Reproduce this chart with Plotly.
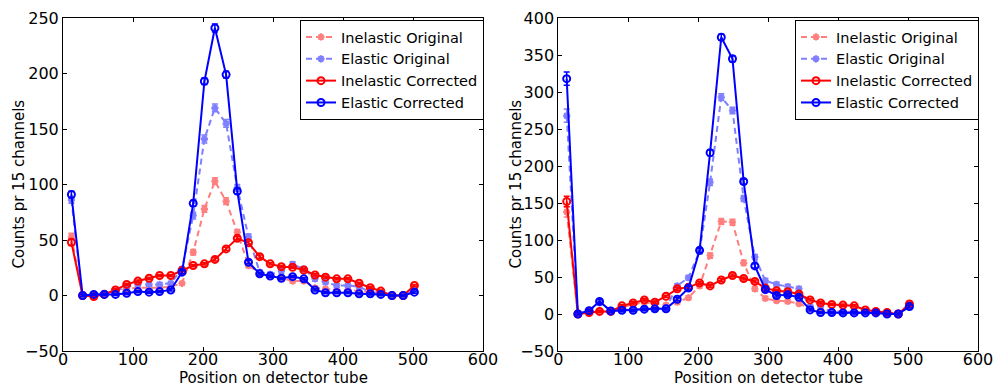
import plotly.graph_objects as go

# Bin positions (shared by both panels)
x = [12, 28, 44, 59, 75, 91, 107, 123, 138, 154, 170, 186, 202, 217, 233, 249,
     265, 281, 296, 312, 328, 344, 360, 375, 391, 407, 423, 439, 454, 470, 486, 502]

names = ["Inelastic Original", "Elastic Original", "Inelastic Corrected", "Elastic Corrected"]
x_title = "Position on detector tube"
y_title = "Counts pr 15 channels"

# ---- Left panel ----
inel_orig_L = [53, 0, 0, 2, 4, 6, 7, 7, 7, 8, 11, 39, 78, 103, 85, 57,
               27, 20, 18, 16, 13, 13, 7, 6, 5, 5, 4, 3, 2, 0, 0, 7]
el_orig_L = [86, 0, 1, 2, 4, 8, 10, 10, 10, 11, 24, 72, 141, 169, 155, 97,
             53, 21, 19, 22, 28, 24, 15, 12, 9, 9, 8, 3, 2, 0, 0, 5]
inel_corr_L = [48, 0, -1, 1, 5, 10, 13, 15.5, 18, 18, 22.5, 27, 28.5, 32.5, 42, 51.5,
               47.5, 35, 28.5, 26, 25.5, 23, 18.5, 16.5, 15, 15, 11, 7, 4, 0, 0, 9]
el_corr_L = [91, 0, 1, 1, 1, 2, 3.5, 3, 3.5, 5, 21, 83, 193, 241, 199, 94,
             30, 19.5, 17.5, 15.5, 17, 15, 5, 2.5, 2.5, 2.5, 1.5, 1.5, 1, 0, 0, 3]

inel_orig_L_err = [3, 1, 1, 1, 1, 1, 1, 1, 1, 1, 1.5, 2.5, 3, 3, 3, 2.5,
                   2, 1.5, 1.5, 1.5, 1.5, 1.5, 1, 1, 1, 1, 1, 1, 1, 1, 1, 1.5]
el_orig_L_err = [3, 1, 1, 1, 1, 1.5, 1.5, 1.5, 1.5, 1.5, 2, 3, 3.5, 3.5, 3.5, 3,
                 2.5, 2, 2, 2, 2.5, 2, 2, 1.5, 1.5, 1.5, 1.5, 1, 1, 1, 1, 1.5]
inel_corr_L_err = [3, 1, 1, 1, 1, 1, 1, 1, 1, 1, 1, 1, 1, 1.5, 1.5, 1.5,
                   1.5, 1.5, 1, 1, 1, 1, 1, 1, 1, 1, 1, 1, 1, 1, 1, 1]
el_corr_L_err = [3, 1, 1, 1, 1, 1, 1, 1, 1, 1, 1.5, 2.5, 3, 3.5, 3, 2.5,
                 1.5, 1, 1, 1, 1, 1, 1, 1, 1, 1, 1, 1, 1, 1, 1, 1]

# ---- Right panel ----
inel_orig_R = [138, 0, 1, 3, 3, 9, 13, 16, 14, 12, 16, 22, 38, 79, 125, 124,
               69, 34, 21, 18, 17, 14, 8, 5, 4, 3, 3, 2, 2, 1, 0, 12]
el_orig_R = [268, 0, 5, 15, 5, 5, 6, 7, 7, 8, 38, 49, 85, 178, 293, 275,
             156, 77, 45, 40, 37, 34, 10, 11, 2, 2, 2, 2, 2, 1, 1, 14]
inel_corr_R = [152, 0, 2, 3.5, 3.5, 11, 15, 19, 16, 24, 34, 36, 42, 38, 46, 52,
               48, 44, 35, 31.5, 30, 27, 19, 15, 13, 12, 11, 5.5, 3.5, 2, 0, 13.5]
el_corr_R = [318, 0, 4.5, 17, 4, 5, 5, 6.5, 7, 7, 20, 35, 86, 218, 374, 345,
             179, 65, 33, 25, 26, 22.5, 5.5, 2, 2, 1.5, 1.5, 1.5, 1.5, 0, 0, 10]

inel_orig_R_err = [7, 1.5, 1.5, 1.5, 1.5, 2, 2, 2, 2, 2, 2, 2.5, 3, 3.5, 4, 4,
                   3.5, 3, 2.5, 2, 2, 2, 2, 1.5, 1.5, 1.5, 1.5, 1.5, 1.5, 1.5, 1.5, 2]
el_orig_R_err = [9, 1.5, 1.5, 2.5, 1.5, 1.5, 1.5, 1.5, 1.5, 1.5, 3, 3, 4, 4.5, 4.5, 4.5,
                 4, 3.5, 3, 3, 3, 3, 2, 2, 1.5, 1.5, 1.5, 1.5, 1.5, 1.5, 1.5, 2.5]
inel_corr_R_err = [7, 1.5, 1.5, 1.5, 1.5, 1.5, 1.5, 1.5, 1.5, 1.5, 2, 2, 2, 2, 2, 2,
                   2, 2, 2, 2, 2, 2, 1.5, 1.5, 1.5, 1.5, 1.5, 1.5, 1.5, 1.5, 1.5, 2]
el_corr_R_err = [9, 1.5, 1.5, 2.5, 1.5, 1.5, 1.5, 1.5, 1.5, 1.5, 2, 2.5, 3, 4, 4, 4,
                 3.5, 3, 2, 2, 2, 2, 1.5, 1.5, 1.5, 1.5, 1.5, 1.5, 1.5, 1.5, 1.5, 2]

LIGHT_RED = "#ff7f7f"
LIGHT_BLUE = "#7f7fff"
RED = "#ff0000"
BLUE = "#0000ff"
FONT = "DejaVu Sans, Liberation Sans, Arial, sans-serif"

fig = go.Figure()


def add(yv, err, name, color, dash, symbol, size, xa, ya, leg):
    fig.add_trace(go.Scatter(
        x=x, y=yv, name=name, mode="lines+markers",
        line=dict(color=color, width=2, dash=dash),
        marker=dict(symbol=symbol, size=size, color=color,
                    line=dict(color=color, width=2)),
        error_y=dict(type="data", array=err, color=color, thickness=1.5, width=3),
        xaxis=xa, yaxis=ya, legend=leg))


series_L = [(inel_orig_L, inel_orig_L_err), (el_orig_L, el_orig_L_err),
            (inel_corr_L, inel_corr_L_err), (el_corr_L, el_corr_L_err)]
series_R = [(inel_orig_R, inel_orig_R_err), (el_orig_R, el_orig_R_err),
            (inel_corr_R, inel_corr_R_err), (el_corr_R, el_corr_R_err)]
styles = [(LIGHT_RED, "6px,4px", "asterisk-open", 6),
          (LIGHT_BLUE, "6px,4px", "asterisk-open", 6),
          (RED, "solid", "circle-open", 7),
          (BLUE, "solid", "circle-open", 7)]

for (yv, err), nm, (c, d, s, sz) in zip(series_L, names, styles):
    add(yv, err, nm, c, d, s, sz, "x", "y", "legend")
for (yv, err), nm, (c, d, s, sz) in zip(series_R, names, styles):
    add(yv, err, nm, c, d, s, sz, "x2", "y2", "legend2")

W, H = 993, 387
ML, MR, MT, MB = 63, 15, 18, 36
pw = W - ML - MR
ph = H - MT - MB

axis_common = dict(
    showline=True, linecolor="black", linewidth=1, mirror="ticks",
    ticks="inside", ticklen=4, tickcolor="black", tickwidth=1,
    showgrid=False, zeroline=False, automargin=False,
    ticklabeloverflow="allow",
    tickfont=dict(family=FONT, size=16, color="black"),
)

xcommon = dict(axis_common, range=[0, 600], tickmode="linear", tick0=0, dtick=100,
               ticklabelstandoff=-6)

legend_common = dict(
    bgcolor="white", bordercolor="black", borderwidth=1,
    font=dict(family=FONT, size=14.5, color="black"),
    xanchor="right", yanchor="top", y=1 - (20 - MT) / ph, tracegroupgap=0,
    itemwidth=30,
)

xdom1 = [0, 420 / pw]
xdom2 = [(558.3 - ML) / pw, 1]

title_font = dict(family=FONT, size=15, color="black")
annotations = []
for dom in (xdom1, xdom2):
    annotations.append(dict(
        text=x_title, xref="paper", yref="paper",
        x=(dom[0] + dom[1]) / 2, y=(H - MB - 378) / ph,
        xanchor="center", yanchor="middle", showarrow=False, font=title_font))
for px in (18, 515):
    annotations.append(dict(
        text=y_title, xref="paper", yref="paper", textangle=-90,
        x=(px - ML) / pw, y=0.5, xanchor="center", yanchor="middle",
        showarrow=False, font=title_font))

fig.update_layout(
    width=W, height=H,
    margin=dict(l=ML, r=MR, t=MT, b=MB, autoexpand=False),
    paper_bgcolor="white", plot_bgcolor="white",
    font=dict(family=FONT, size=15, color="black"),
    xaxis=dict(xcommon, domain=xdom1, anchor="y"),
    xaxis2=dict(xcommon, domain=xdom2, anchor="y2"),
    yaxis=dict(axis_common, range=[-50, 250], tickmode="linear", tick0=-50, dtick=50,
               anchor="x"),
    yaxis2=dict(axis_common, range=[-50, 400], tickmode="linear", tick0=-50, dtick=50,
                anchor="x2"),
    legend=dict(legend_common, x=(484 - ML) / pw),
    legend2=dict(legend_common, x=(979 - ML) / pw),
    annotations=annotations,
    showlegend=True,
)

fig.write_html("out.html")
